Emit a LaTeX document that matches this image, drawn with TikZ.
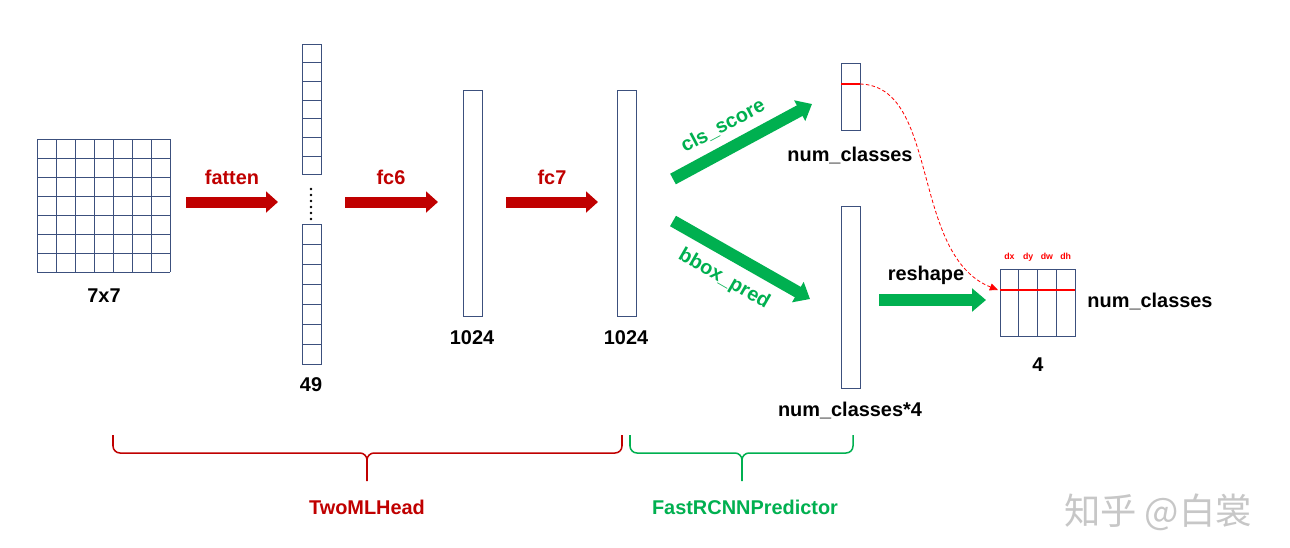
\documentclass[tikz,border=0pt]{standalone}
\usepackage{fontspec}
\setmainfont{Liberation Sans}
\newfontfamily\cjk{Noto Sans CJK SC}
\usetikzlibrary{arrows.meta}

\definecolor{boxblue}{RGB}{60,80,125}
\definecolor{darkred}{RGB}{192,0,0}
\definecolor{headgreen}{RGB}{0,176,80}

\tikzset{
  cell/.style={draw=boxblue, line width=0.8pt},
  redarrow/.style={draw=darkred, line width=0.33cm, -{Triangle[length=0.36cm,width=0.62cm]}},
  greenarrow/.style={draw=headgreen, line width=0.36cm, -{Triangle[length=0.42cm,width=0.68cm]}},
  lbl/.style={font=\fontsize{17}{20}\selectfont\bfseries},
  redlbl/.style={lbl, text=darkred},
  greenlbl/.style={lbl, text=headgreen},
  brace/.style={line width=1.3pt, rounded corners=6pt}
}

\begin{document}
\begin{tikzpicture}[x=0.03cm,y=-0.03cm]
    
    \useasboundingbox[fill=white] (0,0) rectangle (1290,547);
    
    % 7x7 input grid
    \foreach \i in {0,...,7} {
        \draw[cell] (37+19*\i,139) -- (37+19*\i,272);
        \draw[cell] (37,139+19*\i) -- (170,139+19*\i);
    }
    \node[lbl] (in) at (104,296) {7x7};
    
    % flattened 49 vector
    \foreach \i in {0,...,6} {
        \draw[cell] (302,44+18.7*\i) rectangle (321,62.7+18.7*\i);
        \draw[cell] (302,224+20.1*\i) rectangle (321,244.1+20.1*\i);
    }
    \foreach \i in {0,...,5}
        \fill (311,189+6*\i) circle (1.2pt);
    \node[lbl] (n49) at (311,385) {49};
    
    % fc6 and fc7 outputs
    \draw[cell] (463,90) rectangle (482,316);
    \node[lbl] (fc6out) at (472,338) {1024};
    \draw[cell] (617,90) rectangle (636,316);
    \node[lbl] (fc7out) at (626,338) {1024};
    
    % red arrows
    \coordinate (fattenS) at (186,202); \coordinate (fattenE) at (278,202);
    \coordinate (fcsixS) at (345,202);  \coordinate (fcsixE) at (438,202);
    \coordinate (fcsevS) at (506,202);  \coordinate (fcsevE) at (598,202);
    \draw[redarrow] (fattenS) -- (fattenE);
    \draw[redarrow] (fcsixS) -- (fcsixE);
    \draw[redarrow] (fcsevS) -- (fcsevE);
    \node[redlbl] (tfatten) at (232,177) {fatten};
    \node[redlbl] (tfcsix) at (391,177) {fc6};
    \node[redlbl] (tfcsev) at (552,177) {fc7};
    
    % predictor outputs
    \draw[cell] (841,63) rectangle (860,130);
    \draw[red, line width=2.5pt] (841,84) -- (860,84);
    \node[lbl] (ncls) at (850,155) {num\_classes};
    \draw[cell] (841,206) rectangle (860,388);
    \node[lbl] (nbox) at (850,410) {num\_classes*4};
    
    % green arrows
    \coordinate (clsS) at (673,179);  \coordinate (clsE) at (812,104);
    \coordinate (bboxS) at (673,221); \coordinate (bboxE) at (810,299);
    \coordinate (reshS) at (879,300); \coordinate (reshE) at (986,300);
    \draw[greenarrow] (clsS) -- (clsE);
    \draw[greenarrow] (bboxS) -- (bboxE);
    \draw[greenarrow] (reshS) -- (reshE);
    \node[greenlbl, rotate=28, inner sep=1pt] (tcls) at (723,126) {cls\_score};
    \node[greenlbl, rotate=-30, inner sep=1pt] (tbbox) at (724,279) {bbox\_pred};
    \node[lbl] (tresh) at (926,275) {reshape};
    
    % reshaped boxes
    \foreach \i/\t in {0/dx,1/dy,2/dw,3/dh} {
        \draw[cell] (1000+18.75*\i,269) rectangle (1018.75+18.75*\i,336);
        \node[text=red, anchor=base, font=\fontsize{7.5}{9}\selectfont\bfseries] (d\t) at (1009.4+18.75*\i,259) {\t};
    }
    \draw[red, line width=2.5pt] (1000,290) -- (1075,290);
    \node[lbl] (ncls2) at (1150,301) {num\_classes};
    \node[lbl] (nfour) at (1038,365) {4};
    
    % same class row
    \coordinate (clsRow) at (860,84); \coordinate (boxRow) at (998,290);
    \draw[red, densely dashed, line width=0.7pt, -{Triangle[length=7pt,width=6pt]}]
        (clsRow) .. controls (940,86) and (910,255) .. (boxRow);
    
    % braces
    \draw[brace, darkred] (113,435) -- (113,453) -- (367,453) -- (367,481);
    \draw[brace, darkred] (367,460) -- (367,453) -- (622,453) -- (622,435);
    \draw[brace, headgreen] (630,435) -- (630,453) -- (742,453) -- (742,481);
    \draw[brace, headgreen] (742,460) -- (742,453) -- (853,453) -- (853,435);
    \node[redlbl] (twomlp) at (367,507) {TwoMLHead};
    \node[greenlbl] (pred) at (745,507) {FastRCNNPredictor};
    
    % watermark
    \node[text=black!22, font=\fontsize{31}{34}\selectfont\cjk] (mark) at (1158,512) {知乎 @白裳};
    
\end{tikzpicture}
\end{document}
